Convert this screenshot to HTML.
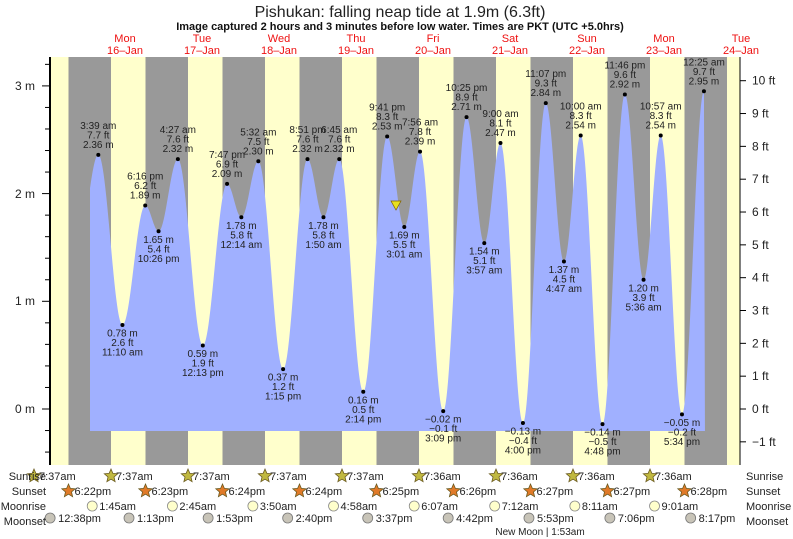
<!DOCTYPE html>
<html><head><meta charset="utf-8"><style>
html,body{margin:0;padding:0;background:#fff;}
svg{display:block;font-family:"Liberation Sans",sans-serif;}
</style></head><body>
<svg id="s" width="793" height="539" viewBox="0 0 793 539" xmlns="http://www.w3.org/2000/svg">
<rect x="50" y="57" width="690" height="408" fill="#ffffcc"/>
<g id="bands" fill="#999999"></g>
<path id="tide" fill="#a0b0ff" d=""/>
<g id="lbl" font-size="10" fill="#222" text-anchor="middle"></g>
<polygon points="391,201 401,201 396,210" fill="#e8e020" stroke="#806000" stroke-width="0.7"/>
<text x="400" y="17" font-size="16" text-anchor="middle" fill="#222">Pishukan: falling  neap tide at 1.9m (6.3ft)</text>
<text x="400" y="30" font-size="11" font-weight="bold" text-anchor="middle" fill="#111">Image captured 2 hours and 3 minutes before low water. Times are PKT (UTC +5.0hrs)</text>
<g font-size="11" fill="#ee1111" text-anchor="middle">
<text x="125" y="42">Mon</text><text x="125" y="54">16–Jan</text>
<text x="202" y="42">Tue</text><text x="202" y="54">17–Jan</text>
<text x="279" y="42">Wed</text><text x="279" y="54">18–Jan</text>
<text x="356" y="42">Thu</text><text x="356" y="54">19–Jan</text>
<text x="433" y="42">Fri</text><text x="433" y="54">20–Jan</text>
<text x="510" y="42">Sat</text><text x="510" y="54">21–Jan</text>
<text x="587" y="42">Sun</text><text x="587" y="54">22–Jan</text>
<text x="664" y="42">Mon</text><text x="664" y="54">23–Jan</text>
<text x="741" y="42">Tue</text><text x="741" y="54">24–Jan</text>
</g>
<line x1="50" y1="57" x2="50" y2="465" stroke="#000" stroke-width="2"/>
<line x1="740" y1="57" x2="740" y2="465" stroke="#000" stroke-width="1"/>
<g id="ax" stroke="#000" stroke-width="1"></g>
<g font-size="12" fill="#222" text-anchor="end">
<text x="35" y="90">3 m</text><text x="35" y="198">2 m</text><text x="35" y="305">1 m</text><text x="35" y="413">0 m</text>
</g>
<g id="rax" font-size="12" fill="#222"></g>
<g id="bot" font-size="11" fill="#222"></g>
<g font-size="11" fill="#222" text-anchor="end">
<text x="46" y="480">Sunrise</text><text x="46" y="495">Sunset</text><text x="46" y="510">Moonrise</text><text x="46" y="525">Moonset</text>
</g>
<g font-size="11" fill="#222">
<text x="746" y="480">Sunrise</text><text x="746" y="495">Sunset</text><text x="746" y="510">Moonrise</text><text x="746" y="525">Moonset</text>
</g>
<text x="540" y="535" font-size="10" fill="#222" text-anchor="middle">New Moon | 1:53am</text>
</svg>
<script>
var NS="http://www.w3.org/2000/svg";
function el(p,t,a,txt){var e=document.createElementNS(NS,t);for(var k in a)e.setAttribute(k,a[k]);if(txt!=null)e.textContent=txt;p.appendChild(e);return e;}
var M0=86.6,PD=77,PH=77/24;
function Y(h){return 409-107.7*h;}
var bands=document.getElementById('bands');
for(var k=0;k<=8;k++){var a=M0+PD*k-18.1,b=M0+PD*k+24.4;if(a<50)a=50;if(b>740)b=740;el(bands,'rect',{x:a,y:57,width:b-a,height:408});}
var E=[
[0,3.65,2.36,"3:39 am","7.7 ft","2.36 m"],
[0,11.17,0.78,"11:10 am","2.6 ft","0.78 m"],
[0,18.27,1.89,"6:16 pm","6.2 ft","1.89 m"],
[0,22.43,1.65,"10:26 pm","5.4 ft","1.65 m"],
[1,4.45,2.32,"4:27 am","7.6 ft","2.32 m"],
[1,12.22,0.59,"12:13 pm","1.9 ft","0.59 m"],
[1,19.78,2.09,"7:47 pm","6.9 ft","2.09 m"],
[2,0.23,1.78,"12:14 am","5.8 ft","1.78 m"],
[2,5.53,2.30,"5:32 am","7.5 ft","2.30 m"],
[2,13.25,0.37,"1:15 pm","1.2 ft","0.37 m"],
[2,20.85,2.32,"8:51 pm","7.6 ft","2.32 m"],
[3,1.83,1.78,"1:50 am","5.8 ft","1.78 m"],
[3,6.75,2.32,"6:45 am","7.6 ft","2.32 m"],
[3,14.23,0.16,"2:14 pm","0.5 ft","0.16 m"],
[3,21.68,2.53,"9:41 pm","8.3 ft","2.53 m"],
[4,3.02,1.69,"3:01 am","5.5 ft","1.69 m"],
[4,7.93,2.39,"7:56 am","7.8 ft","2.39 m"],
[4,15.15,-0.02,"3:09 pm","−0.1 ft","−0.02 m"],
[4,22.42,2.71,"10:25 pm","8.9 ft","2.71 m"],
[5,3.95,1.54,"3:57 am","5.1 ft","1.54 m"],
[5,9.0,2.47,"9:00 am","8.1 ft","2.47 m"],
[5,16.0,-0.13,"4:00 pm","−0.4 ft","−0.13 m"],
[5,23.12,2.84,"11:07 pm","9.3 ft","2.84 m"],
[6,4.78,1.37,"4:47 am","4.5 ft","1.37 m"],
[6,10.0,2.54,"10:00 am","8.3 ft","2.54 m"],
[6,16.8,-0.14,"4:48 pm","−0.5 ft","−0.14 m"],
[6,23.77,2.92,"11:46 pm","9.6 ft","2.92 m"],
[7,5.6,1.20,"5:36 am","3.9 ft","1.20 m"],
[7,10.95,2.54,"10:57 am","8.3 ft","2.54 m"],
[7,17.57,-0.05,"5:34 pm","−0.2 ft","−0.05 m"],
[8,0.42,2.95,"12:25 am","9.7 ft","2.95 m"]];
var P=[[78,1.5]];E.forEach(function(e){P.push([M0+PD*e[0]+PH*e[1],e[2]]);});
var d="M90,431";
for(var x=90;x<=P[P.length-1][0];x+=0.5){
 var i=0;while(i<P.length-2&&P[i+1][0]<x)i++;
 var a=P[i],b=P[i+1],t=(x-a[0])/(b[0]-a[0]);if(t>1)t=1;
 var h=a[1]+(b[1]-a[1])*(1-Math.cos(Math.PI*t))/2;d+=" L"+x.toFixed(1)+","+Y(h).toFixed(1);}
var xl=P[P.length-1][0];d+=" L"+xl+","+Y(2.95)+" L"+(xl+1)+",431 Z";
document.getElementById('tide').setAttribute('d',d);
var L=document.getElementById('lbl');
E.forEach(function(e,i){var x=M0+PD*e[0]+PH*e[1],y=Y(e[2]);el(L,'circle',{cx:x,cy:y,r:2,fill:'#000'});
 var hi=(i%2==0)?(e[2]>(E[i+1]?E[i+1][2]:0)):(e[2]>E[i-1][2]);
 if(hi){el(L,'text',{x:x,y:y-26},e[3]);el(L,'text',{x:x,y:y-16.5},e[4]);el(L,'text',{x:x,y:y-7},e[5]);}
 else{el(L,'text',{x:x,y:y+11.5},e[5]);el(L,'text',{x:x,y:y+21},e[4]);el(L,'text',{x:x,y:y+30.5},e[3]);}});
var ax=document.getElementById('ax');
for(var m=-0.4;m<=3.3;m+=0.2){var yy=Y(m);if(yy<57||yy>465)continue;var maj=Math.abs(m-Math.round(m))<0.01;el(ax,'line',{x1:maj?42:45,y1:yy,x2:50,y2:yy});}
var R=document.getElementById('rax');
for(var f=-1;f<=10;f++){var yy=409-32.83*f;el(ax,'line',{x1:740,y1:yy,x2:746,y2:yy});el(R,'text',{x:752,y:yy+4},f<0?"−1 ft":f+" ft");}
var B=document.getElementById('bot');
function star(cx,cy,fill){var s="";for(var j=0;j<10;j++){var r=j%2?3.2:7,an=-Math.PI/2+j*Math.PI/5;s+=(cx+r*Math.cos(an)).toFixed(1)+","+(cy+r*Math.sin(an)).toFixed(1)+" ";}el(B,'polygon',{points:s,fill:fill,stroke:'#6a5a20','stroke-width':0.8});}
var sr=["7:37am","7:37am","7:37am","7:37am","7:37am","7:36am","7:36am","7:36am","7:36am"];
var ss=["6:22pm","6:23pm","6:24pm","6:24pm","6:25pm","6:26pm","6:27pm","6:27pm","6:28pm"];
for(var k=0;k<9;k++){var x=M0-PD+24.4+PD*k;star(x,476,'#c0b840');el(B,'text',{x:x+5,y:480},sr[k]);
 var x2=M0-18.1+PD*k;star(x2,491,'#e07a28');el(B,'text',{x:x2+6,y:495},ss[k]);}
var mr=[[1.75,"1:45am"],[2.75,"2:45am"],[3.83,"3:50am"],[4.97,"4:58am"],[6.12,"6:07am"],[7.2,"7:12am"],[8.18,"8:11am"],[9.02,"9:01am"]];
mr.forEach(function(m,k){var x=M0+PD*k+PH*m[0];el(B,'circle',{cx:x,cy:506,r:5,fill:'#ffffcc',stroke:'#888','stroke-width':0.8});el(B,'text',{x:x+7,y:510},m[1]);});
var ms=[[12.63,"12:38pm"],[13.22,"1:13pm"],[13.88,"1:53pm"],[14.67,"2:40pm"],[15.62,"3:37pm"],[16.7,"4:42pm"],[17.88,"5:53pm"],[19.1,"7:06pm"],[20.28,"8:17pm"]];
ms.forEach(function(m,k){var x=M0-PD+PD*k+PH*m[0];el(B,'circle',{cx:x,cy:518,r:5,fill:'#c8c4b8',stroke:'#777','stroke-width':0.8});el(B,'text',{x:x+8,y:522},m[1]);});
</script>
</body></html>
